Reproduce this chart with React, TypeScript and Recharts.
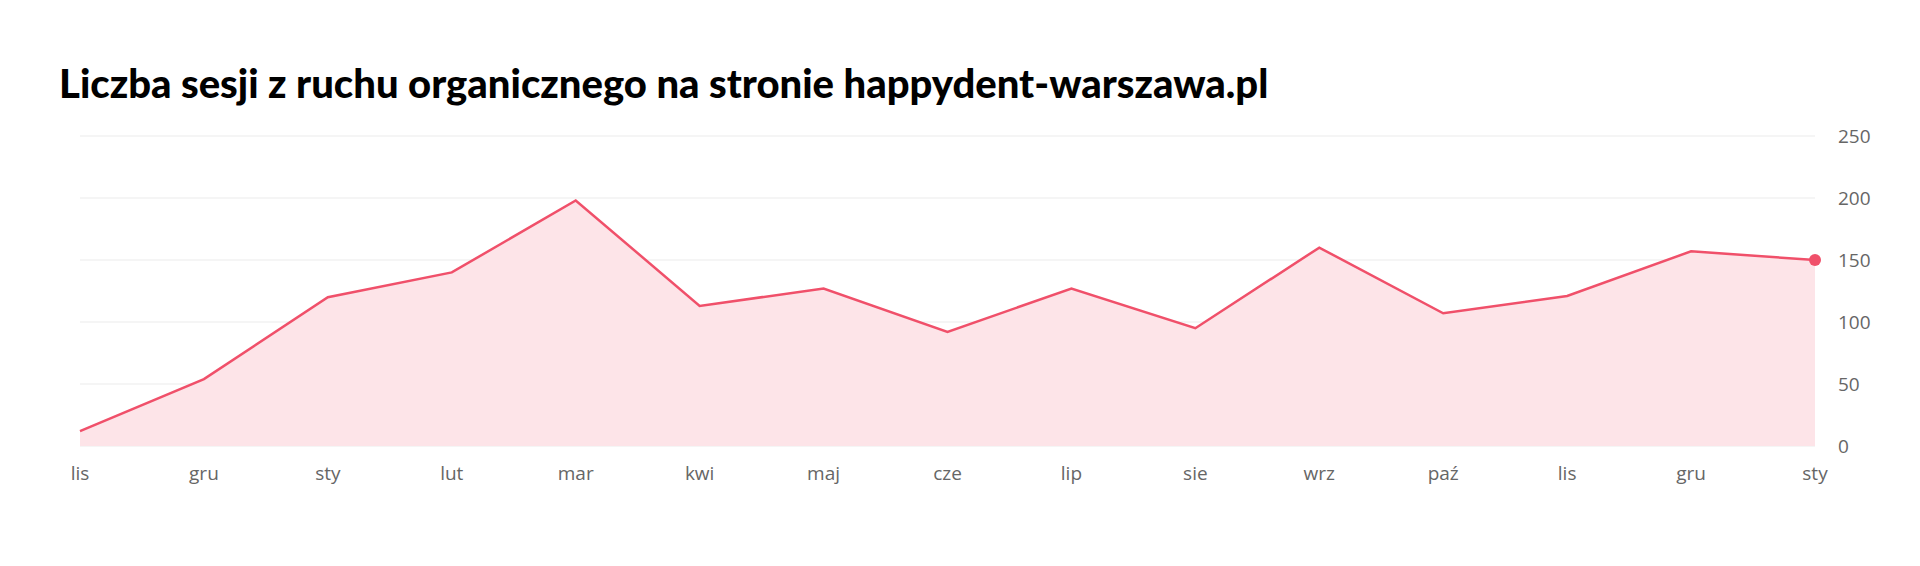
import { ComposedChart, Area, XAxis, YAxis, CartesianGrid } from 'recharts';

const MONTHS = ['lis', 'gru', 'sty', 'lut', 'mar', 'kwi', 'maj', 'cze', 'lip', 'sie', 'wrz', 'paź', 'lis', 'gru', 'sty'];
const SESSIONS = [12, 54, 120, 140, 198, 113, 127, 92, 127, 95, 160, 107, 121, 157, 150];
const Y_TICKS = [0, 50, 100, 150, 200, 250];

const data = MONTHS.map((m, i) => ({ key: `${m}-${i}`, month: m, sessions: SESSIONS[i] }));

const LINE = '#f0506a';

// only the last point gets a dot
const LastDot = (props: any) => {
  const { cx, cy, index } = props;
  if (index !== SESSIONS.length - 1) return <g key={`d-${index}`} />;
  return <circle key={`d-${index}`} cx={cx} cy={cy} r={6} fill={LINE} stroke="none" />;
};

export default function App() {
  return (
    <div style={{ position: 'absolute', left: 0, top: 0, width: 1920, height: 566, background: '#fff' }}>
      <div
        style={{
          position: 'absolute',
          left: 59,
          top: 58,
          fontFamily: 'Lato, sans-serif',
          fontWeight: 900,
          fontSize: 40,
          color: '#000',
          lineHeight: '50px',
          whiteSpace: 'nowrap',
        }}
      >
        Liczba sesji z ruchu organicznego na stronie happydent-warszawa.pl
      </div>
      <ComposedChart
        width={1920}
        height={566}
        data={data}
        margin={{ top: 136, right: 25, left: 80, bottom: 80 }}
      >
        <CartesianGrid horizontal vertical={false} stroke="#ebebeb" />
        <XAxis
          dataKey="key"
          tickFormatter={(v: string) => v.split('-')[0]}
          interval={0}
          axisLine={false}
          tickLine={false}
          height={40}
          tickMargin={15}
          tick={{ fill: '#666', fontSize: 19, fontFamily: 'Open Sans, sans-serif' }}
        />
        <YAxis
          orientation="right"
          domain={[0, 250]}
          ticks={Y_TICKS}
          axisLine={false}
          tickLine={false}
          width={80}
          tickMargin={17}
          tick={{ fill: '#666', fontSize: 19, fontFamily: 'Open Sans, sans-serif', textAnchor: 'start' }}
        />
        <Area
          type="linear"
          dataKey="sessions"
          stroke={LINE}
          strokeWidth={2.5}
          fill="#fde4e8"
          fillOpacity={1}
          dot={LastDot}
          activeDot={false}
          isAnimationActive={false}
        />
      </ComposedChart>
    </div>
  );
}
